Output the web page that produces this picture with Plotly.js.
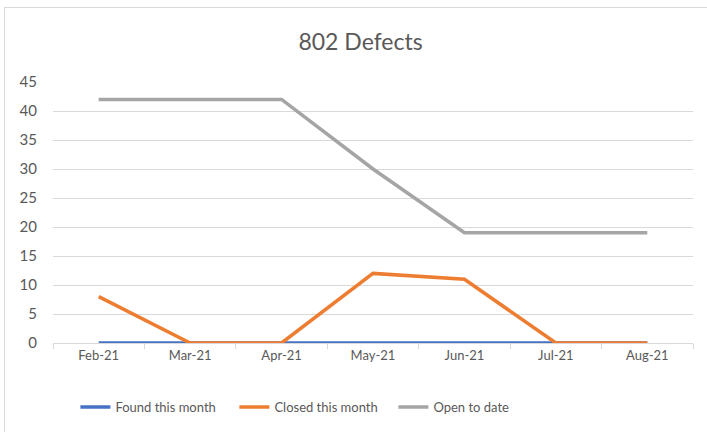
<!DOCTYPE html>
<html><head><meta charset="utf-8">
<script src="https://cdn.plot.ly/plotly-3.0.1.min.js"></script>
<style>
html,body{margin:0;padding:0;background:#fff;}
#wrap{position:relative;width:707px;height:432px;overflow:hidden;}
#chart{width:707px;height:432px;}
#border{position:absolute;left:4px;top:7px;width:720px;height:440px;border:1px solid #d9d9d9;pointer-events:none;}
</style></head>
<body><div id="wrap"><div id="chart"></div><div id="border"></div></div>
<script>
const months = ["Feb-21","Mar-21","Apr-21","May-21","Jun-21","Jul-21","Aug-21"];
const found = [0,0,0,0,0,0,0];
const closed = [8,0,0,12,11,0,0];
const openToDate = [42,42,42,30,19,19,19];
const yTicks = [0,5,10,15,20,25,30,35,40,45];

const fnt = "Lato, 'Open Sans', sans-serif";
const mk = (name, y, color) => ({type:'scatter', mode:'lines', name, x:months, y,
  line:{color, width:3.5}, hoverinfo:'skip'});
const data = [
  mk('Found this month', found, '#4472C4'),
  mk('Closed this month', closed, '#ED7D31'),
  mk('Open to date', openToDate, '#A5A5A5')
];
const layout = {
  width:707, height:432,
  margin:{l:53, r:14, t:82, b:89, autoexpand:false},
  paper_bgcolor:'#fff', plot_bgcolor:'#fff',
  font:{family:fnt, color:'#595959', size:13},
  title:{text:'802 Defects', x:0.51, xanchor:'center', y:0.903, yanchor:'middle',
    font:{size:23, color:'#595959', family:fnt}},
  xaxis:{type:'category', range:[-0.5,6.5], showgrid:false, zeroline:false,
    showline:true, linecolor:'#d9d9d9', linewidth:1,
    ticks:'outside', tickson:'boundaries', ticklen:5, tickcolor:'#d9d9d9',
    tickfont:{size:13, color:'#595959'}},
  yaxis:{range:[0,45], tickvals:yTicks, showgrid:true, gridcolor:'#d9d9d9', gridwidth:1,
    zeroline:false, showline:false, ticks:'outside', ticklen:12, tickcolor:'rgba(0,0,0,0)',
    tickfont:{size:15, color:'#595959'}},
  showlegend:true,
  legend:{orientation:'h', x:0.035, xanchor:'left', y:-0.245, yanchor:'middle',
    font:{size:13, color:'#595959'}, itemwidth:30, entrywidth:114, traceorder:'normal'}
};
Plotly.newPlot('chart', data, layout, {displayModeBar:false, staticPlot:true});
</script></body></html>
